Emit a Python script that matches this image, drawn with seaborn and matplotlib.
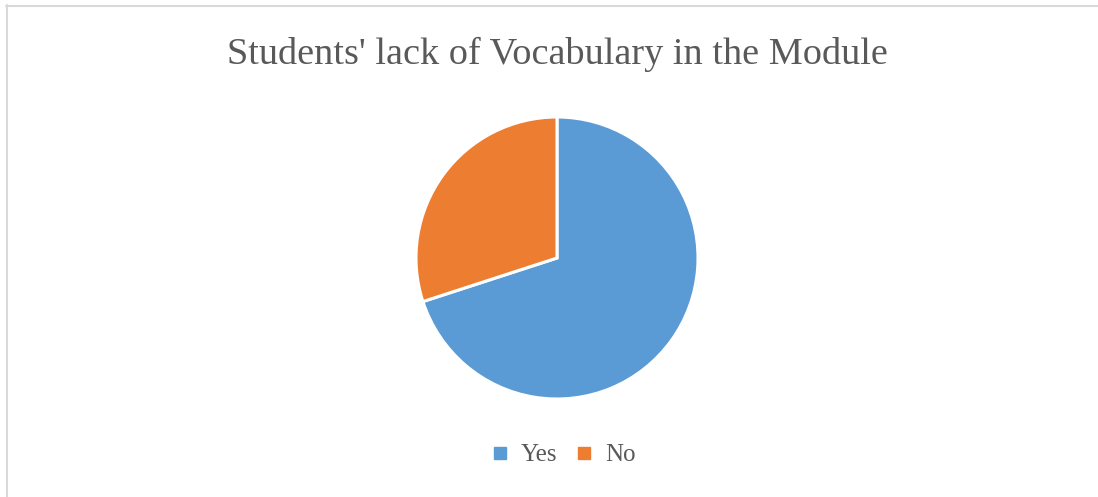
import matplotlib
matplotlib.use("Agg")
import matplotlib.pyplot as plt
from matplotlib.lines import Line2D
import seaborn as sns

# Survey responses
categories = ["Yes", "No"]
values = [70, 30]
colors = ["#5B9BD5", "#ED7D31"]
title = "Students' lack of Vocabulary in the Module"

sns.set_theme(style="white")
plt.rcParams["font.family"] = ["Liberation Serif", "DejaVu Serif"]

W, H = 1098, 497
fig = plt.figure(figsize=(W / 100, H / 100), dpi=100)
fig.patch.set_facecolor("white")

# Square axes holding the pie
cx, cy, r = 557, 258, 141
ax = fig.add_axes([(cx - r) / W, (H - cy - r) / H, 2 * r / W, 2 * r / H])
ax.pie(values, colors=colors, startangle=90, counterclock=False,
       wedgeprops=dict(edgecolor="white", linewidth=2.2))
ax.set_xlim(-1.0, 1.0)
ax.set_ylim(-1.0, 1.0)
ax.set_aspect("equal")
ax.axis("off")

fig.text(cx / W, 1 - 54 / H, title, ha="center", va="center",
         fontsize=27.5, color="#595959")

handles = [Line2D([], [], marker="s", linestyle="none", markersize=8,
                  markerfacecolor=c, markeredgecolor=c) for c in colors]
fig.legend(handles, categories, loc="center", bbox_to_anchor=(560 / W, 1 - 455 / H),
           ncol=2, frameon=False, fontsize=18, handletextpad=0.25, handlelength=1.2,
           columnspacing=0.45, labelcolor="#595959")

# Chart area outline (left and top edges)
fig.add_artist(Line2D([6.5 / W, 6.5 / W], [0, 1 - 5 / H], transform=fig.transFigure,
                      color="#D9D9D9", linewidth=1.5))
fig.add_artist(Line2D([6 / W, 1], [1 - 5.5 / H, 1 - 5.5 / H], transform=fig.transFigure,
                      color="#D9D9D9", linewidth=1.5))

fig.savefig("out.png", dpi=100, facecolor="white")
